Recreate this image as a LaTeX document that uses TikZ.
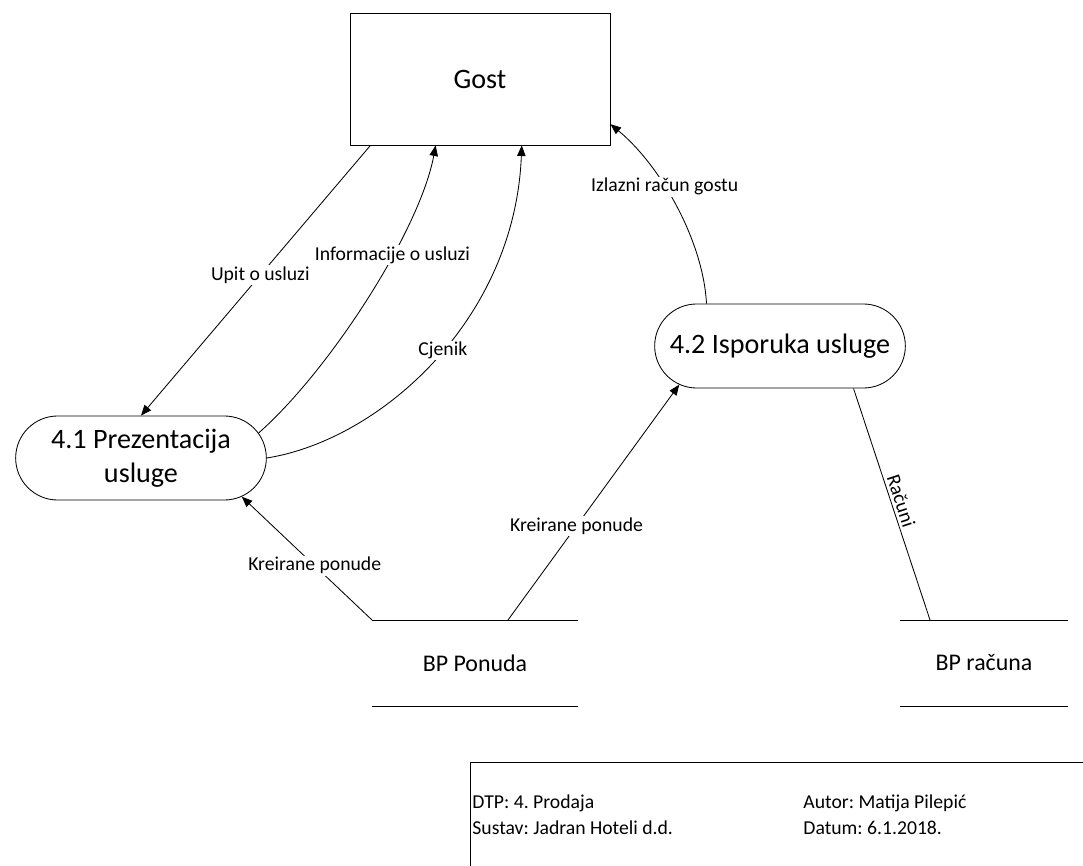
\documentclass[tikz,border=0pt]{standalone}
\usepackage{fontspec}
\setmainfont{Carlito}
\usetikzlibrary{arrows.meta,positioning,calc,shapes.misc}
\frenchspacing

\begin{document}
\begin{tikzpicture}[x=0.025cm, y=-0.025cm, line width=0.6pt,
    every node/.style={font=\fontsize{14}{16}\selectfont},
    entity/.style={draw, minimum width=6.5cm, minimum height=3.3cm, font=\fontsize{20}{24}\selectfont},
    process/.style={draw, rounded rectangle, minimum width=6.5cm, minimum height=2.1cm, align=center, font=\fontsize{20}{24}\selectfont},
    flow/.style={-{Triangle[length=7.5pt, width=6pt]}},
    lbl/.style={fill=white, inner sep=1pt}]

\useasboundingbox (0,0) rectangle (1083,866);

% entitet i procesi
\node[entity] (gost) at (480,79) {Gost};
\node[process] (p41) at (141,458) {4.1 Prezentacija\\usluge};
\node[process] (p42) at (780,346) {4.2 Isporuka usluge};

% spremista podataka
\foreach \n/\x/\t in {bpp/475/BP Ponuda, bpr/984/BP računa}{
    \node[font=\fontsize{17}{19}\selectfont] (\n) at (\x,663) {\t};
}
\draw (372,620) -- (578,620) (372,706) -- (578,706);
\draw (900,620) -- (1068,620) (900,706) -- (1068,706);
\coordinate (bpp1) at (372,620);
\coordinate (bpp2) at (508,620);
\coordinate (bpr1) at (930,620);

% tocke na entitetu
\coordinate (g1) at ($(gost.south west)!0.08!(gost.south east)$);
\coordinate (g2) at ($(gost.south west)!0.33!(gost.south east)$);
\coordinate (g3) at ($(gost.south west)!0.66!(gost.south east)$);
\coordinate (g4) at ($(gost.south east)!0.16!(gost.north east)$);

% tokovi podataka
\draw[flow] (g1) -- node[lbl, pos=0.48] {Upit o usluzi} (p41.north);
\draw[flow] (p41.12) .. controls (330,370) and (420,230) .. node[lbl, pos=0.63] {Informacije o usluzi} (g2);
\draw[flow] (p41.east) .. controls (380,440) and (515,320) .. node[lbl, pos=0.53] {Cjenik} (g3);
\draw[flow] (p42.150) .. controls (703,240) and (660,165) .. node[lbl, pos=0.6] {Izlazni račun gostu} (g4);
\draw[flow] (bpp1) -- node[lbl, pos=0.44] {Kreirane ponude} (p41.-21);
\draw[flow] (bpp2) -- node[lbl, pos=0.4] {Kreirane ponude} (p42.201);
\draw (p42.-30) -- node[sloped, above, inner sep=2pt] {Računi} (bpr1);

% zaglavlje
\draw (1083,762) -- (470,762) -- (470,866);
\node[anchor=west, inner sep=0pt] (dtp) at (472,803) {DTP: 4. Prodaja};
\node[anchor=west, inner sep=0pt] (sustav) at (472,828) {Sustav: Jadran Hoteli d.d.};
\node[anchor=west, inner sep=0pt] (autor) at (803,803) {Autor: Matija Pilepić};
\node[anchor=west, inner sep=0pt] (datum) at (803,828) {Datum: 6.1.2018.};

\end{tikzpicture}
\end{document}
